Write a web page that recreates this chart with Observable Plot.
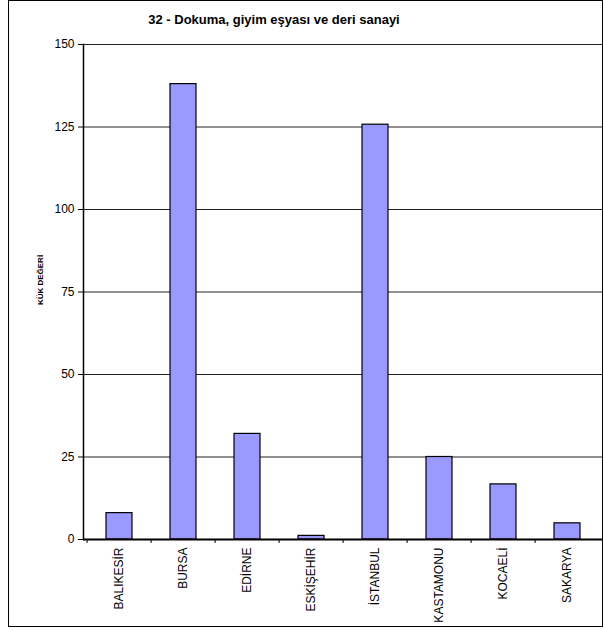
<!DOCTYPE html>
<html><head><meta charset="utf-8">
<script src="https://cdn.jsdelivr.net/npm/d3@7"></script>
<script src="https://cdn.jsdelivr.net/npm/@observablehq/plot@0.6"></script>
<style>
body{margin:0;background:#fff;font-family:"Liberation Sans",Arial,sans-serif;}
#wrap{position:relative;width:604px;height:630px;overflow:hidden;}
#frame{position:absolute;left:8px;top:0;width:595px;height:627px;box-sizing:border-box;border:1px solid #000;}
#title{position:absolute;left:124px;width:300px;top:12px;text-align:center;font-weight:bold;font-size:13px;color:#000;}
#ylabel{position:absolute;left:40px;top:280px;transform:translate(-50%,-50%) rotate(-90deg);font-weight:bold;font-size:8px;white-space:nowrap;color:#000;}
#chart{position:absolute;left:0;top:0;}
</style></head>
<body>
<div id="wrap">
  <div id="frame"></div>
  <div id="chart"></div>
  <div id="title">32 - Dokuma, giyim eşyası ve deri sanayi</div>
  <div id="ylabel">KÜK DEĞERİ</div>
</div>
<script>
const categories = ["BALIKESİR","BURSA","EDİRNE","ESKİŞEHİR","İSTANBUL","KASTAMONU","KOCAELİ","SAKARYA"];
const values = [8, 138, 32, 1.1, 125.7, 25, 16.7, 4.9];
const yTicks = [0, 25, 50, 75, 100, 125, 150];
const data = categories.map((c, i) => ({region: c, value: values[i]}));

const W = 604, H = 630, mL = 83, mR = 2, mT = 44, mB = 91;
const step = (W - mL - mR) / categories.length;

const chart = Plot.plot({
  width: W, height: H,
  marginLeft: mL, marginRight: mR, marginTop: mT, marginBottom: mB,
  style: {fontFamily: '"Liberation Sans", Arial, sans-serif', fontSize: "12px", background: "transparent", color: "#000"},
  x: {domain: categories, paddingInner: 0.6, paddingOuter: 0.3, label: null},
  y: {domain: [0, 150], label: null},
  marks: [
    Plot.gridY(yTicks, {stroke: "#222", strokeOpacity: 1, strokeWidth: 1}),
    Plot.barY(data, {x: "region", y: "value", fill: "#9999FF", stroke: "#000", strokeWidth: 1.2}),
    Plot.ruleY([0], {stroke: "#000", strokeWidth: 2}),
    Plot.frame({anchor: "left", stroke: "#000", strokeWidth: 1.5}),
    Plot.axisY(yTicks, {tickSize: 5, tickPadding: 4, fontSize: 12, label: null}),
    Plot.axisX({text: null, tickSize: 4, dx: -step / 2, label: null}),
    Plot.axisX({tickSize: 0, tickRotate: -90, tickPadding: 8, fontSize: 12, label: null})
  ]
});
document.getElementById("chart").appendChild(chart);
</script>
</body></html>
